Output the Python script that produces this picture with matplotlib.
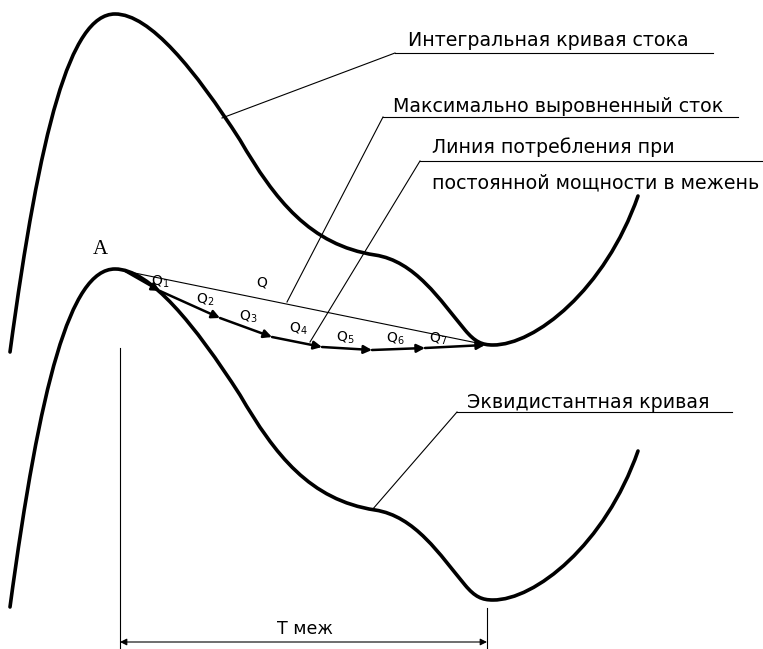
import numpy as np
import matplotlib.pyplot as plt
from matplotlib.path import Path
from matplotlib.patches import PathPatch

# integral runoff curve as cubic Bezier segments (pixel coords, y down)
curve_pts = [
    (10, 352), (40, 130), (70, 14), (115, 14),
    (150, 14), (195, 70), (240, 140),
    (275, 200), (310, 245), (375, 255),
    (415, 261), (440, 300), (465, 330),
    (475, 342), (482, 345), (493, 345),
    (535, 345), (605, 290), (638, 196),
]
equi_shift = 255  # equidistant curve lies this far below

peak_a = (115, 269)
regulated_end = (487, 345)

# consumption line at constant power during low water
cons_x = [125, 160, 220, 272, 322, 372, 425, 485]
cons_y = [271, 291, 318, 337, 347, 350, 348, 345]

q_labels = ['Q1', 'Q2', 'Q3', 'Q4', 'Q5', 'Q6', 'Q7']
q_pos = [(160, 282), (205, 300), (248, 317), (298, 329), (345, 338), (395, 339), (438, 339)]

leaders = [
    # (text lines, text left x, text center ys, underline y, underline x0, x1, leader start)
    (['Интегральная кривая стока'], 408, [40], 53, 395, 713, (222, 118)),
    (['Максимально выровненный сток'], 393, [106], 117, 383, 738, (287, 302)),
    (['Линия потребления при', 'постоянной мощности в межень'], 432, [147, 183], 161, 420, 763, (310, 342)),
    (['Эквидистантная кривая'], 467, [402], 412, 457, 732, (372, 510)),
]

fig = plt.figure(figsize=(7.63, 6.49), dpi=100)
ax = fig.add_axes([0, 0, 1, 1])
ax.set_xlim(0, 763)
ax.set_ylim(649, 0)
ax.axis('off')

codes = [Path.MOVETO] + [Path.CURVE4] * (len(curve_pts) - 1)
for shift in (0, equi_shift):
    verts = [(x, y + shift) for x, y in curve_pts]
    ax.add_patch(PathPatch(Path(verts, codes), fill=False, lw=2.6, color='black',
                           capstyle='round', joinstyle='round'))

# maximally regulated flow
ax.plot([peak_a[0], regulated_end[0]], [peak_a[1], regulated_end[1]], color='black', lw=0.8)
ax.text(262, 290, 'Q', fontsize=10, ha='center', va='bottom')

for i in range(len(cons_x) - 1):
    ax.annotate('', xy=(cons_x[i + 1], cons_y[i + 1]), xytext=(cons_x[i], cons_y[i]),
                arrowprops=dict(arrowstyle='-|>', lw=1.8, color='black',
                                mutation_scale=12, shrinkA=0, shrinkB=0))
for lab, (x, y) in zip(q_labels, q_pos):
    ax.text(x, y, r'$\mathregular{Q_{%s}}$' % lab[1:], fontsize=10, ha='center', va='center')

ax.text(100, 250, 'A', fontsize=15, family='Liberation Serif', ha='center', va='center')

for lines, tx, tys, uy, ux0, ux1, start in leaders:
    for line, ty in zip(lines, tys):
        ax.text(tx, ty, line, fontsize=13.7, ha='left', va='center')
    ax.plot([ux0, ux1], [uy, uy], color='black', lw=0.8)
    ax.plot([start[0], ux0], [start[1], uy], color='black', lw=0.8)

# low-water period dimension
ax.plot([120, 120], [348, 649], color='black', lw=0.8)
ax.plot([487, 487], [608, 649], color='black', lw=0.8)
ax.annotate('', xy=(487, 642), xytext=(120, 642),
            arrowprops=dict(arrowstyle='<|-|>', lw=0.8, color='black',
                            mutation_scale=10, shrinkA=0, shrinkB=0))
ax.text(305, 629, 'T меж', fontsize=12.5, ha='center', va='center')

fig.savefig('out.png', dpi=100)
